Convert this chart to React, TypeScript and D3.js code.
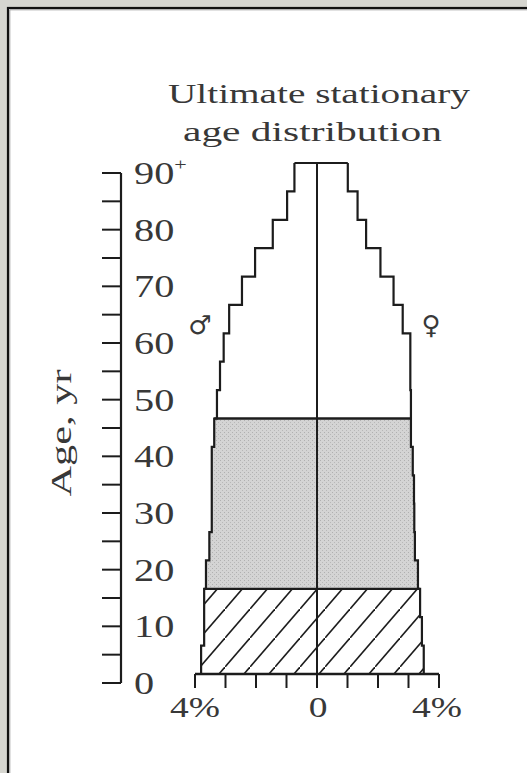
import React from "react";
import * as d3 from "d3";

// ---- data (percent of total population, by 5-year age band) ----
const ageStarts = [0, 5, 10, 15, 20, 25, 30, 35, 40, 45, 50, 55, 60, 65, 70, 75, 80, 85];
const maleShare = [3.8, 3.7, 3.7, 3.64, 3.53, 3.45, 3.45, 3.45, 3.37, 3.28, 3.18, 3.06, 2.88, 2.46, 2.03, 1.45, 0.98, 0.74];
const femaleShare = [3.5, 3.44, 3.38, 3.31, 3.21, 3.19, 3.18, 3.14, 3.08, 3.08, 3.06, 3.06, 2.81, 2.51, 2.08, 1.61, 1.33, 1.01];
const topAge = 90;
const hatchRange = [0, 15];
const shadeRange = [15, 45];
const plainRange = [45, 90];

const yTickValues = [0, 5, 10, 15, 20, 25, 30, 35, 40, 45, 50, 55, 60, 65, 70, 75, 80, 85, 90];
const yLabelValues = [0, 10, 20, 30, 40, 50, 60, 70, 80, 90];
const yLabelTexts = ["0", "10", "20", "30", "40", "50", "60", "70", "80", "90"];
const xTickValues = [-4, -3, -2, -1, 0, 1, 2, 3, 4];
const xLabelValues = [-4, 0, 4];
const xLabelTexts = ["4%", "0", "4%"];
const titleLines = ["Ultimate stationary", "age distribution"];
const yTitle = "Age, yr";

type Pt = { age: number; v: number };

function bandAt(a: number) {
  let i = 0;
  ageStarts.forEach((s, k) => {
    if (s <= a) i = k;
  });
  return i;
}

function regionPoints(shares: number[], lo: number, hi: number): Pt[] {
  const pts: Pt[] = [{ age: lo, v: shares[bandAt(lo)] }];
  ageStarts.forEach((s, i) => {
    if (s > lo && s < hi) pts.push({ age: s, v: shares[i] });
  });
  pts.push({ age: hi, v: shares[bandAt(hi - 1e-6)] });
  return pts;
}

export default function App() {
  const W = 527;
  const H = 773;
  const x = d3.scaleLinear().domain([-4, 4]).range([195, 439]);
  const yP = d3.scaleLinear().domain([0, topAge]).range([674, 163]);
  const yA = d3.scaleLinear().domain([0, 90]).range([683, 173]);
  const axisX = 121;
  const ink = "#1c1c1c";
  const textInk = "#383838";
  const serif = "'Liberation Serif', 'Times New Roman', serif";

  const sides = [
    { shares: maleShare, sign: -1 },
    { shares: femaleShare, sign: 1 },
  ];

  const areaFor = (sign: number) =>
    d3
      .area<Pt>()
      .y((d) => yP(d.age))
      .x0(x(0))
      .x1((d) => x(sign * d.v))
      .curve(d3.curveStepBefore);
  const lineFor = (sign: number) =>
    d3
      .line<Pt>()
      .x((d) => x(sign * d.v))
      .y((d) => yP(d.age))
      .curve(d3.curveStepBefore);

  const regions = [
    { range: hatchRange, fill: "url(#hatch)" },
    { range: shadeRange, fill: "url(#screen)" },
    { range: plainRange, fill: "#ffffff" },
  ];

  const topM = maleShare[maleShare.length - 1];
  const topF = femaleShare[femaleShare.length - 1];

  return (
    <svg
      width={W}
      height={H}
      style={{ position: "absolute", left: 0, top: 0 }}
      xmlns="http://www.w3.org/2000/svg"
    >
      <defs>
        <pattern id="hatch" patternUnits="userSpaceOnUse" width={25} height={29}>
          <rect width={25} height={29} fill="#ffffff" />
          <path d="M-3,32.5 L28,-3.5" stroke={ink} strokeWidth={1.6} />
        </pattern>
        <pattern id="screen" patternUnits="userSpaceOnUse" width={4} height={4}>
          <rect width={4} height={4} fill="#d4d4d4" />
          <rect x={0} y={0} width={1} height={1} fill="#b0b0b0" />
          <rect x={2} y={2} width={1} height={1} fill="#b8b8b8" />
        </pattern>
      </defs>

      {/* page background and frame */}
      <rect x={0} y={0} width={W} height={H} fill="#d6d6d0" />
      <rect x={8} y={8} width={W + 20} height={H + 20} fill="#ffffff" stroke="#111" strokeWidth={2.2} />
      <line x1={9.8} y1={9.8} x2={9.8} y2={H} stroke="#9a9a9a" strokeWidth={1} />
      <line x1={9.8} y1={9.8} x2={W} y2={9.8} stroke="#9a9a9a" strokeWidth={1} />

      {/* title */}
      {titleLines.map((t, i) => (
        <text
          key={t}
          x={i === 0 ? 319 : 312.5}
          y={i === 0 ? 103 : 141}
          textAnchor="middle"
          fontFamily={serif}
          fontSize={28}
          fill={textInk}
          textLength={i === 0 ? 302 : 259}
          lengthAdjust="spacingAndGlyphs"
        >
          {t}
        </text>
      ))}

      {/* pyramid fills */}
      {sides.map((s) =>
        regions.map((r, j) => (
          <path
            key={`${s.sign}-${j}`}
            d={areaFor(s.sign)(regionPoints(s.shares, r.range[0], r.range[1])) || ""}
            fill={r.fill}
            stroke="none"
          />
        ))
      )}

      {/* outlines */}
      {sides.map((s) => (
        <path
          key={`o${s.sign}`}
          d={lineFor(s.sign)(regionPoints(s.shares, 0, topAge)) || ""}
          fill="none"
          stroke={ink}
          strokeWidth={2.2}
        />
      ))}
      <line x1={x(-topM)} x2={x(topF)} y1={yP(topAge)} y2={yP(topAge)} stroke={ink} strokeWidth={2.2} />
      {[hatchRange[1], shadeRange[1]].map((a) => (
        <line
          key={`b${a}`}
          x1={x(-maleShare[bandAt(a - 1e-6)])}
          x2={x(femaleShare[bandAt(a - 1e-6)])}
          y1={yP(a)}
          y2={yP(a)}
          stroke={ink}
          strokeWidth={2.4}
        />
      ))}
      <line x1={x(0)} x2={x(0)} y1={yP(0)} y2={yP(topAge)} stroke={ink} strokeWidth={2} />

      {/* x axis */}
      <line x1={x(-4)} x2={x(4)} y1={yP(0)} y2={yP(0)} stroke={ink} strokeWidth={2.4} />
      {xTickValues.map((v) => (
        <line key={`xt${v}`} x1={x(v)} x2={x(v)} y1={yP(0)} y2={yP(0) + 14} stroke={ink} strokeWidth={2} />
      ))}
      {xLabelValues.map((v, i) => (
        <text
          key={`xl${i}`}
          transform={`translate(${x(v) + (v === 0 ? 1 : v < 0 ? 0 : -2)},717) scale(1.25,1)`}
          textAnchor="middle"
          fontFamily={serif}
          fontSize={30}
          fill={textInk}
        >
          {xLabelTexts[i]}
        </text>
      ))}

      {/* y axis */}
      <line x1={axisX} x2={axisX} y1={yA(0)} y2={yA(90)} stroke={ink} strokeWidth={2.2} />
      {yTickValues.map((v) => (
        <line key={`yt${v}`} x1={axisX - 19} x2={axisX} y1={yA(v)} y2={yA(v)} stroke={ink} strokeWidth={2} />
      ))}
      {yLabelValues.map((v, i) => (
        <text
          key={`yl${v}`}
          transform={`translate(134,${yA(v)}) scale(1.3,1)`}
          dy="0.35em"
          fontFamily={serif}
          fontSize={31}
          fill={textInk}
        >
          {yLabelTexts[i]}
          {v === 90 ? (
            <tspan fontSize={17} dy={-14}>
              +
            </tspan>
          ) : null}
        </text>
      ))}
      <text
        transform={`translate(71,433) rotate(-90)`}
        textAnchor="middle"
        fontFamily={serif}
        fontSize={29}
        fill={textInk}
        textLength={127}
        lengthAdjust="spacingAndGlyphs"
      >
        {yTitle}
      </text>

      {/* sex symbols */}
      <text x={200} y={325} dy="0.35em" textAnchor="middle" fontFamily="'DejaVu Sans', sans-serif" fontSize={26} fill={textInk}>
        ♂
      </text>
      <text x={431} y={325} dy="0.35em" textAnchor="middle" fontFamily="'DejaVu Sans', sans-serif" fontSize={26} fill={textInk}>
        ♀
      </text>
    </svg>
  );
}
